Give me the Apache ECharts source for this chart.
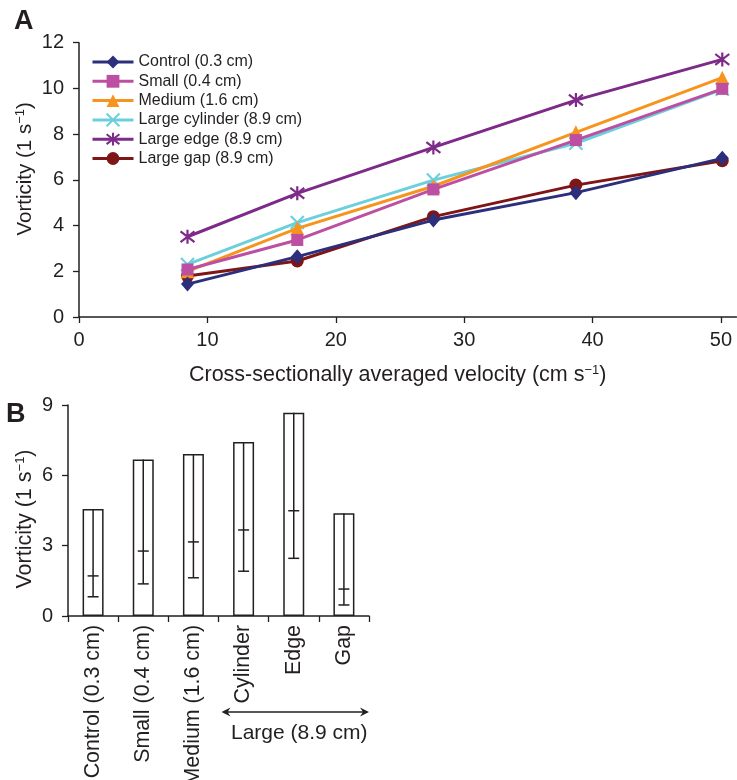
<!DOCTYPE html>
<html>
<head>
<meta charset="utf-8">
<script src="https://cdn.jsdelivr.net/npm/echarts@6/dist/echarts.min.js"></script>
<style>
html,body{margin:0;padding:0;background:#fff;}
#main{width:737px;height:780px;}
</style>
</head>
<body>
<div id="main"></div>
<script>
// ---------- Panel A data ----------
const velocity = [8.45, 17.0, 27.6, 38.7, 50.1];
const seriesNames = ['Control (0.3 cm)', 'Small (0.4 cm)', 'Medium (1.6 cm)', 'Large cylinder (8.9 cm)', 'Large edge (8.9 cm)', 'Large gap (8.9 cm)'];
const controlVals  = [1.44, 2.64, 4.24, 5.44, 6.94];
const smallVals    = [2.08, 3.37, 5.58, 7.74, 9.98];
const mediumVals   = [2.0, 3.88, 5.72, 8.08, 10.47];
const cylinderVals = [2.3, 4.13, 5.99, 7.6, 9.96];
const edgeVals     = [3.51, 5.41, 7.42, 9.49, 11.27];
const gapVals      = [1.79, 2.45, 4.39, 5.77, 6.84];
const xTicksA = [0, 10, 20, 30, 40, 50];

// ---------- Panel B data ----------
const categoriesB = ['Control (0.3 cm)', 'Small (0.4 cm)', 'Medium (1.6 cm)', 'Cylinder', 'Edge', 'Gap'];
const barTop = [4.56, 6.68, 6.91, 7.42, 8.67, 4.38];
const barMid = [1.71, 2.77, 3.16, 3.67, 4.49, 1.15];
const barLow = [0.82, 1.37, 1.63, 1.91, 2.46, 0.47];

const FONT = "'Liberation Sans', Arial, Helvetica, sans-serif";
const INK = '#231f20';
const colors = ['#2b2f7c', '#bd4fa3', '#f7941d', '#6ccfdc', '#7d2a89', '#7e1517'];
const symbols = ['diamond', 'rect', 'triangle',
  'path://M0,0L10,10M10,0L0,10',
  'path://M0,0L10,10M10,0L0,10M5,-1.5L5,11.5',
  'circle'];
const symbolSizes = [[13, 15], 12, 14, 13, 14, 13];
const valsA = [controlVals, smallVals, mediumVals, cylinderVals, edgeVals, gapVals];

const chart = echarts.init(document.getElementById('main'), null, {renderer: 'canvas'});

function richFor(size) {
  return {
    a: {fontSize: size, fontFamily: FONT, color: INK},
    sup: {fontSize: Math.round(size * 0.62), fontFamily: FONT, color: INK, padding: [0, 0, Math.round(size * 0.45), 0]}
  };
}

const lineSeries = seriesNames.map((n, i) => ({
  name: n,
  type: 'line',
  xAxisIndex: 0,
  yAxisIndex: 0,
  data: velocity.map((v, j) => [v, valsA[i][j]]),
  symbol: symbols[i],
  symbolSize: symbolSizes[i],
  showAllSymbol: true,
  lineStyle: {color: colors[i], width: 3},
  itemStyle: {color: colors[i], borderColor: colors[i], borderWidth: (i === 3 || i === 4) ? 2.2 : 0},
  emphasis: {disabled: true},
  animation: false,
  z: 2 + (5 - i)
}));

const labelsAB = [
  {type: 'text', left: 14, top: 8, style: {text: 'A', font: "bold 27px " + FONT, fill: INK}},
  {type: 'text', left: 6, top: 401, style: {text: 'B', font: "bold 27px " + FONT, fill: INK}}
];

const option = {
  animation: false,
  textStyle: {fontFamily: FONT},
  legend: {
    orient: 'vertical',
    left: 86,
    top: 49,
    itemWidth: 41,
    itemHeight: 16,
    itemGap: 3.3,
    data: seriesNames,
    lineStyle: {width: 3},
    textStyle: {fontSize: 16, color: INK, fontFamily: FONT, padding: [0, 0, 0, 0]},
    selectedMode: false
  },
  grid: [
    {left: 79, top: 42.7, width: 657.4, height: 274.3, outerBoundsMode: 'none', containLabel: false},
    {left: 68, top: 405, width: 301, height: 211, outerBoundsMode: 'none', containLabel: false}
  ],
  xAxis: [
    {
      type: 'value', gridIndex: 0, min: 0, max: 51.2,
      axisLine: {show: true, lineStyle: {color: INK, width: 1.5}},
      axisTick: {show: true, length: 6, lineStyle: {color: INK, width: 1.3}, customValues: xTicksA},
      axisLabel: {fontSize: 20, color: INK, margin: 13, customValues: xTicksA, fontFamily: FONT},
      splitLine: {show: false},
      name: '{a|Cross-sectionally averaged velocity (cm s}{sup|−1}{a|)}',
      nameLocation: 'middle', nameGap: 47, nameMoveOverlap: false,
      nameTextStyle: {rich: richFor(21.5), padding: [0, 20, 0, 0]}
    },
    {
      type: 'category', gridIndex: 1, data: categoriesB,
      axisLine: {show: true, lineStyle: {color: INK, width: 1.5}},
      axisTick: {show: true, length: 6, lineStyle: {color: INK, width: 1.3}},
      axisLabel: {fontSize: 21.4, color: INK, rotate: 90, margin: 9, interval: 0, fontFamily: FONT},
      splitLine: {show: false}
    }
  ],
  yAxis: [
    {
      type: 'value', gridIndex: 0, min: 0, max: 12, interval: 2,
      axisLine: {show: true, lineStyle: {color: INK, width: 1.5}},
      axisTick: {show: true, length: 6, lineStyle: {color: INK, width: 1.3}},
      axisLabel: {fontSize: 20, color: INK, margin: 15, fontFamily: FONT},
      splitLine: {show: false},
      name: '{a|Vorticity (1 s}{sup|−1}{a|)}',
      nameLocation: 'middle', nameGap: 43, nameRotate: 90, nameMoveOverlap: false,
      nameTextStyle: {rich: richFor(20.5), padding: [0, 0, 0, 22]}
    },
    {
      type: 'value', gridIndex: 1, min: 0, max: 9, interval: 3,
      axisLine: {show: true, lineStyle: {color: INK, width: 1.5}},
      axisTick: {show: true, length: 6, lineStyle: {color: INK, width: 1.3}},
      axisLabel: {fontSize: 20, color: INK, margin: 15, fontFamily: FONT},
      splitLine: {show: false},
      name: '{a|Vorticity (1 s}{sup|−1}{a|)}',
      nameLocation: 'middle', nameGap: 31, nameRotate: 90, nameMoveOverlap: false,
      nameTextStyle: {rich: richFor(21.5), padding: [0, 17, 0, 0]}
    }
  ],
  series: lineSeries.concat([
    {
      type: 'bar', xAxisIndex: 1, yAxisIndex: 1,
      data: barTop, barWidth: 21,
      itemStyle: {color: '#fff', borderColor: INK, borderWidth: 1.5},
      emphasis: {disabled: true}, silent: true
    },
    {
      type: 'custom', xAxisIndex: 1, yAxisIndex: 1,
      data: categoriesB.map((c, i) => [i, barTop[i], barMid[i], barLow[i]]),
      encode: {x: 0, y: [1, 2, 3]},
      z: 5, silent: true,
      renderItem: function (params, api) {
        const i = api.value(0);
        const pTop = api.coord([i, api.value(1)]);
        const pMid = api.coord([i, api.value(2)]);
        const pLow = api.coord([i, api.value(3)]);
        const hw = 5.5;
        const st = {stroke: INK, lineWidth: 1.5};
        return {type: 'group', children: [
          {type: 'line', shape: {x1: pTop[0], y1: pTop[1], x2: pLow[0], y2: pLow[1]}, style: st},
          {type: 'line', shape: {x1: pMid[0] - hw, y1: pMid[1], x2: pMid[0] + hw, y2: pMid[1]}, style: st},
          {type: 'line', shape: {x1: pLow[0] - hw, y1: pLow[1], x2: pLow[0] + hw, y2: pLow[1]}, style: st}
        ]};
      }
    }
  ]),
  graphic: labelsAB
};

chart.setOption(option);

// Annotation for the "Large" group under panel B, placed from the category axis
const c3 = chart.convertToPixel({xAxisIndex: 1, yAxisIndex: 1}, [3, 0]);
const c5 = chart.convertToPixel({xAxisIndex: 1, yAxisIndex: 1}, [5, 0]);
const band = (c5[0] - c3[0]) / 2;
const ax1 = c3[0] - band * 0.44, ax2 = c5[0] + band * 0.5, ay = 712;
chart.setOption({
  graphic: labelsAB.concat([
    {type: 'line', shape: {x1: ax1 + 4, y1: ay, x2: ax2 - 4, y2: ay}, style: {stroke: INK, lineWidth: 1.5}},
    {type: 'polygon', shape: {points: [[ax1, ay], [ax1 + 9, ay - 4.5], [ax1 + 6, ay], [ax1 + 9, ay + 4.5]]}, style: {fill: INK}},
    {type: 'polygon', shape: {points: [[ax2, ay], [ax2 - 9, ay - 4.5], [ax2 - 6, ay], [ax2 - 9, ay + 4.5]]}, style: {fill: INK}},
    {type: 'text', x: (ax1 + ax2) / 2 + 4, y: 733, style: {text: 'Large (8.9 cm)', font: "21px " + FONT, fill: INK, align: 'center', verticalAlign: 'middle'}}
  ])
}, {replaceMerge: ['graphic']});
</script>
</body>
</html>
